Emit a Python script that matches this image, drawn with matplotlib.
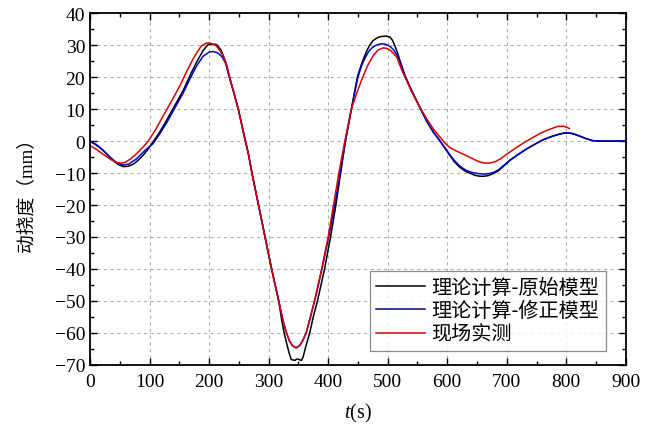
import matplotlib
matplotlib.use("Agg")
import matplotlib.pyplot as plt
from matplotlib.ticker import MultipleLocator

plt.rcParams['font.family'] = ['Liberation Serif', 'Noto Sans CJK SC']
plt.rcParams['mathtext.fontset'] = 'custom'
plt.rcParams['mathtext.it'] = 'Liberation Serif:italic'
plt.rcParams['mathtext.rm'] = 'Liberation Serif'

# theory - original model
t_orig = [0, 10, 22, 31, 39, 47, 56, 64, 73, 81, 89, 97, 104, 115, 125, 140, 157, 170, 180,
          190, 198, 205, 212, 220, 228, 234, 241, 249, 255, 261, 266, 272, 283, 294, 305,
          317, 322, 326, 330, 334, 338, 344, 347, 350, 355, 358, 362, 366, 369, 375, 382,
          394, 404, 413, 421, 429, 439, 449, 455, 460, 465, 470, 475, 480, 485, 490, 497,
          504, 508, 512, 516, 520, 525, 529, 535, 541, 554, 566, 577, 588, 596, 604, 612,
          621, 631, 641, 648, 655, 662, 669, 677, 686, 695, 705, 719, 733, 747, 761, 775,
          789, 796, 803, 812, 823, 834, 845, 856, 900]
d_orig = [0, -1.2, -2.9, -4.6, -6.1, -7.3, -8.0, -7.9, -7.2, -6.0, -4.5, -2.7, -0.8, 2.2, 5.3,
          10.3, 16, 21.3, 25, 28.3, 30.1, 30.3, 30.2, 28.5, 24.6, 20, 15.5, 10, 5, 0, -4,
          -10, -20, -30, -40, -50, -56, -60, -63, -66, -68.3, -68.6, -68.2, -68.2, -68.6,
          -67.5, -64.5, -62, -60, -55, -50, -40, -30, -20, -10, 0, 10, 20, 23.5, 26, 28.3,
          30, 31.3, 32, 32.5, 32.7, 32.8, 32.5, 31.5, 29.8, 27.8, 25.5, 22.7, 20.5, 17.8,
          15.5, 10.5, 6, 2.7, 0, -2.2, -4.4, -6.5, -8.2, -9.5, -10.3, -10.8, -11.0, -11.0,
          -10.8, -10.2, -9.3, -7.8, -6.1, -4.2, -2.5, -1.0, 0.4, 1.4, 2.2, 2.45, 2.5, 2.2,
          1.5, 0.7, 0.1, 0, 0]

# theory - corrected model
t_corr = [0, 10, 17, 25, 34, 45, 56, 65, 78, 92, 106, 117, 129, 143, 157, 168, 179, 190,
          200, 207, 215, 222, 228, 234, 241, 249, 255, 261, 266, 272, 283, 294, 305, 317,
          324, 330, 335, 340, 346, 352, 357, 363, 370, 380, 392, 403, 412, 420, 429, 439,
          450, 456, 462, 468, 474, 479, 484, 490, 495, 500, 505, 510, 515, 520, 528, 541,
          554, 566, 577, 588, 596, 604, 612, 621, 631, 641, 649, 658, 665, 672, 679, 686,
          695, 705, 719, 733, 747, 761, 775, 789, 796, 803, 812, 823, 834, 845, 856, 900]
d_corr = [-0.2, -1, -2, -3.5, -5.1, -6.8, -7.5, -7.2, -5.6, -3, -0.8, 2.2, 5.8, 10.5, 15.2,
          19.5, 23.5, 26.5, 27.8, 28.0, 27.5, 26.3, 24.2, 20, 15.5, 10, 5, 0, -4, -10, -20,
          -30, -40, -50, -56, -60, -62.5, -64, -64.6, -64, -62.5, -60, -55, -48, -38, -28,
          -19, -10, 0, 10, 20, 23.5, 26, 28, 29.2, 29.8, 30.2, 30.4, 30.3, 30, 29.4, 28.5,
          27, 25, 20.8, 15.5, 10.5, 6, 2.7, 0, -2.1, -4.2, -6.1, -7.8, -9.1, -9.8, -10.1,
          -10.3, -10.3, -10.1, -9.7, -9.0, -7.6, -6.0, -4.2, -2.5, -1.0, 0.4, 1.4, 2.2, 2.5,
          2.6, 2.3, 1.5, 0.7, 0.1, 0, 0]

# field measurement
t_meas = [0, 10, 22, 35, 45, 52, 59, 68, 78, 88, 98, 110, 123, 137, 151, 163, 173, 180, 187,
          195, 200, 205, 212, 218, 224, 230, 236, 241, 249, 255, 261, 266, 272, 283, 294,
          305, 317, 324, 330, 335, 340, 346, 352, 357, 363, 370, 377, 389, 400, 409, 418,
          428, 439, 447, 456, 466, 476, 484, 492, 498, 505, 515, 523, 540, 554, 566, 577,
          588, 596, 604, 615, 627, 638, 649, 656, 663, 671, 680, 690, 700, 714, 728, 742,
          756, 771, 786, 796, 801, 805]
d_meas = [-1.4, -2.5, -4.1, -5.8, -6.7, -6.9, -6.7, -5.6, -4.0, -2.1, 0, 3.5, 7.9, 12.5,
          17.3, 22, 25.6, 27.8, 29.7, 30.6, 30.7, 30.4, 29.8, 28.3, 26.5, 23.5, 19, 15.5,
          10, 5, 0, -4, -10, -20, -30, -40, -50, -56, -60, -62.5, -64, -64.7, -64, -62.5,
          -60, -55.5, -50, -40, -30, -20, -10, 0, 10, 14.5, 19, 23.5, 26.8, 28.5, 29.1,
          29.0, 28.3, 26.3, 22.5, 15.5, 10.5, 6.8, 3.7, 1.2, -0.6, -2.0, -3.1, -4.1, -5.1,
          -6.1, -6.6, -6.9, -6.9, -6.5, -5.5, -4.1, -2.3, -0.6, 0.9, 2.4, 3.6, 4.6, 4.6,
          4.3, 3.9]

labels = ['理论计算-原始模型', '理论计算-修正模型', '现场实测']

fig = plt.figure(figsize=(6.54, 4.27), dpi=100)
ax = fig.add_axes([0.1376, 0.143, 0.8194, 0.824])

ax.plot(t_orig, d_orig, color='black', lw=1.1, label=labels[0])
ax.plot(t_corr, d_corr, color='#0000cc', lw=1.1, label=labels[1])
ax.plot(t_meas, d_meas, color='#dd0000', lw=1.1, label=labels[2])

ax.set_xlim(0, 900)
ax.set_ylim(-70, 40)
ax.xaxis.set_major_locator(MultipleLocator(100))
ax.xaxis.set_minor_locator(MultipleLocator(50))
ax.yaxis.set_major_locator(MultipleLocator(10))
ax.yaxis.set_minor_locator(MultipleLocator(5))
ax.tick_params(which='both', direction='in', top=True, right=True, labelsize=14)
ax.tick_params(axis='x', pad=6)
ax.tick_params(which='major', length=5, width=1)
ax.tick_params(which='minor', length=3, width=1)
for s in ax.spines.values():
    s.set_linewidth(1.3)
ax.grid(True, which='major', color='#b0b0b0', linestyle=(0, (3, 3)), lw=0.8)

ax.set_xlabel(r'$t$(s)', fontsize=14.5, labelpad=8)
ax.set_ylabel('动挠度（mm）', fontsize=13.5, labelpad=14)

leg = ax.legend(loc='lower right', bbox_to_anchor=(0.962, 0.04), fancybox=False,
                edgecolor='#707070', handlelength=2.4, borderpad=0.3, labelspacing=0.12,
                handletextpad=0.35, borderaxespad=0,
                prop={'family': 'Noto Sans CJK SC', 'size': 14.5})
leg.get_frame().set_linewidth(0.9)
leg.legend_handles[1].set_color('#000080')

fig.savefig('out.png', dpi=100)
